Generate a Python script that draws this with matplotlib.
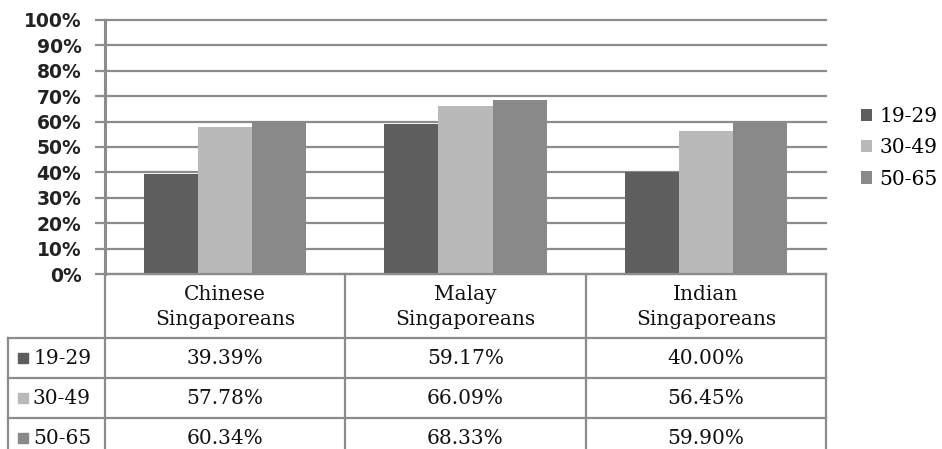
import matplotlib.pyplot as plt
from matplotlib.patches import Rectangle
import numpy as np

groups = ["Chinese\nSingaporeans", "Malay\nSingaporeans", "Indian\nSingaporeans"]
ages = ["19-29", "30-49", "50-65"]
v_19_29 = [39.39, 59.17, 40.00]
v_30_49 = [57.78, 66.09, 56.45]
v_50_65 = [60.34, 68.33, 59.90]
series = [v_19_29, v_30_49, v_50_65]
colors = ["#5e5e5e", "#b9b9b9", "#898989"]
yticks = np.arange(0, 101, 10)

W, H = 942, 449
fig = plt.figure(figsize=(W / 100, H / 100), dpi=100)

gray = "#8c8c8c"
serif = "DejaVu Serif"
fs = 14.5

# main chart axes (pixel layout -> figure fractions)
x0, x1 = 105, 826
y_top, y_zero = 20, 274
ax = fig.add_axes([x0 / W, (H - y_zero) / H, (x1 - x0) / W, (y_zero - y_top) / H])
x = np.arange(len(groups))
bw = 0.225
for i, vals in enumerate(series):
    ax.bar(x + (i - 1) * bw, vals, bw, color=colors[i], zorder=3, label=ages[i])
ax.set_xlim(-0.5, 2.5)
ax.set_ylim(0, 100)
ax.set_yticks(yticks)
ax.set_yticklabels([f"{t}%" for t in yticks], fontsize=13.5, fontweight="bold",
                   family="DejaVu Sans", color="#222222")
ax.set_xticks([])
ax.yaxis.grid(True, color=gray, linewidth=1.6, zorder=0)
for gl in ax.get_ygridlines():
    gl.set_clip_on(False)
for s in ["top", "right", "bottom"]:
    ax.spines[s].set_visible(False)
ax.spines["left"].set_color(gray)
ax.spines["left"].set_linewidth(2.2)
ax.tick_params(axis="y", length=7, width=1.6, color=gray, pad=10)

# legend
handles, labels = ax.get_legend_handles_labels()
fig.legend(handles, labels, loc="center left", bbox_to_anchor=(861 / W, 1 - 148 / H),
           frameon=False, borderpad=0, borderaxespad=0,
           handlelength=0.55, handleheight=0.55, handletextpad=0.35,
           labelspacing=0.6, prop={"family": serif, "size": fs})

# data table axes beneath the chart, sharing the category scale
tx0 = 8
px_per_unit = (x1 - x0) / 3.0
xl = -0.5 - (x0 - tx0) / px_per_unit
tab = fig.add_axes([tx0 / W, 0, (x1 - tx0) / W, (H - y_zero) / H])
tab.set_xlim(xl, 2.5)
tab.set_ylim(H - y_zero, 0)
tab.axis("off")

head_h, row_h = 64, 40
lw = 1.6
# header row borders
tab.plot([-0.5, 2.5], [0, 0], color=gray, lw=lw, clip_on=False)
for b in [-0.5, 0.5, 1.5, 2.5]:
    tab.plot([b, b], [0, H], color=gray, lw=lw, clip_on=False)
tab.plot([xl, xl], [head_h, H], color=gray, lw=lw, clip_on=False)
for r in range(4):
    yy = head_h + r * row_h
    tab.plot([xl, 2.5], [yy, yy], color=gray, lw=lw, clip_on=False)

for j, g in enumerate(groups):
    tab.text(j, head_h / 2 + 1, g, ha="center", va="center", family=serif,
             fontsize=fs, linespacing=1.4, color="#111111")

for i, vals in enumerate(series):
    yc = head_h + i * row_h + row_h / 2
    # legend key square and age label
    sq = 10 / px_per_unit
    tab.add_patch(Rectangle((xl + 10 / px_per_unit, yc - 5), sq, 10,
                            color=colors[i], clip_on=False))
    tab.text(xl + 25 / px_per_unit, yc + 1, ages[i], ha="left", va="center",
             family=serif, fontsize=fs, color="#111111")
    for j, v in enumerate(vals):
        tab.text(j, yc + 1, f"{v:.2f}%", ha="center", va="center", family=serif,
                 fontsize=fs, color="#111111")

fig.savefig("out.png", dpi=100)
